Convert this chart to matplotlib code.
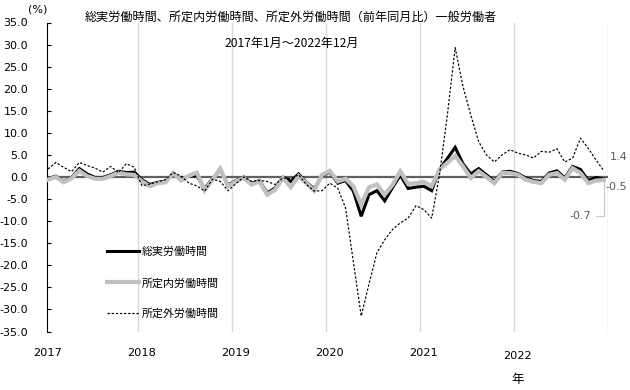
import matplotlib
matplotlib.use('Agg')
import matplotlib.pyplot as plt
from matplotlib.ticker import FuncFormatter
from matplotlib.transforms import blended_transform_factory
import numpy as np

plt.rcParams['font.family'] = ['Noto Sans CJK JP', 'DejaVu Sans']

years = ['2017', '2018', '2019', '2020', '2021', '2022']

# 総実労働時間 (前年同月比, %)
total_hours = [
    -0.4, 0.2, -1.0, -0.1, 1.9, 0.7, -0.1, -0.1, 0.5, 1.3, 1.0, 1.1,
    -0.6, -1.7, -1.2, -1.0, 0.9, -0.5, 0.2, 0.3, -2.6, -0.4, 1.6, -1.8,
    -0.8, 0.0, -1.4, -0.8, -3.6, -2.5, 0.0, -1.0, 0.7, -1.2, -2.7, 0.3,
    1.1, -1.4, -0.8, -3.2, -8.9, -4.0, -3.1, -5.4, -2.4, 0.4, -2.6, -2.3,
    -2.1, -3.1, 1.7, 4.2, 6.7, 3.0, 0.7, 1.9, 0.5, -1.0, 1.1, 1.3,
    0.8, -0.2, -0.8, -1.0, 0.9, 1.4, -0.2, 2.4, 1.7, -0.8, -0.1, -0.5,
]
# 所定内労働時間
scheduled_hours = [
    -0.6, 0.0, -1.2, -0.3, 1.4, 0.2, -0.4, -0.4, 0.2, 1.0, 0.6, 0.5,
    -1.0, -2.1, -1.4, -1.2, 0.9, -0.8, 0.3, 1.0, -3.0, -0.6, 1.9, -2.1,
    -1.0, -0.2, -1.7, -1.0, -4.0, -2.9, -0.2, -2.3, 0.2, -1.4, -3.1, 0.5,
    1.4, -1.0, -0.4, -2.1, -6.3, -2.3, -1.7, -4.0, -1.8, 1.3, -1.6, -1.4,
    -1.1, -2.1, 1.7, 3.2, 4.8, 2.4, -0.2, 1.3, 0.0, -1.4, 0.9, 0.9,
    0.5, -0.6, -1.1, -1.4, 0.5, 0.9, -0.6, 2.0, 0.9, -1.4, -0.8, -0.7,
]
# 所定外労働時間
overtime_hours = [
    1.8, 3.3, 2.2, 1.2, 3.3, 2.6, 2.0, 1.1, 2.4, 1.0, 3.0, 2.2,
    -2.0, -1.6, -1.1, -0.6, 1.0, 0.2, -1.4, -2.0, -3.2, -0.5, -1.0, -3.1,
    -1.5, 0.0, -1.0, -0.8, -1.0, -1.7, -0.2, -0.4, 0.5, -1.7, -3.2, -3.1,
    -1.4, -2.5, -7.0, -19.2, -31.5, -24.2, -17.2, -14.2, -11.9, -10.4, -9.3, -6.5,
    -7.4, -9.3, 0.5, 14.0, 29.3, 20.5, 14.0, 8.0, 5.0, 3.4, 5.0, 6.2,
    5.4, 5.0, 4.3, 5.8, 5.6, 6.4, 3.4, 4.3, 8.8, 6.5, 3.8, 1.4,
]

labels = ['総実労働時間', '所定内労働時間', '所定外労働時間']
title = '総実労働時間、所定内労働時間、所定外労働時間（前年同月比）一般労働者'
subtitle = '2017年1月～2022年12月'

W, H = 630, 390
fig = plt.figure(figsize=(W / 100, H / 100), dpi=100)
ax = fig.add_axes([47 / W, 1 - 331.5 / H, (608 - 47) / W, (331.5 - 22.5) / H])

x = np.arange(len(total_hours))
ax.axhline(0, color='#606060', lw=1.6, zorder=2)
l1, = ax.plot(x, total_hours, color='black', lw=2.2, zorder=3, label=labels[0],
              solid_joinstyle='miter')
l2, = ax.plot(x, scheduled_hours, color='#c0c0c0', lw=3.0, zorder=4, label=labels[1],
              solid_joinstyle='miter')
l3, = ax.plot(x, overtime_hours, color='black', lw=0.85, ls=(0, (2, 1.5)), zorder=5,
              label=labels[2])

ax.set_xlim(-0.13, 71.52)
ax.set_ylim(-35, 35)
ax.set_yticks(np.arange(-35, 36, 5))
ax.yaxis.set_major_formatter(FuncFormatter(lambda v, p: f'{v:.1f}'))
ax.tick_params(axis='y', direction='in', length=3, width=0.8, pad=13.7,
               labelsize=8, labelfontfamily='DejaVu Sans', colors='black')

ax.set_xticks([0, 12, 24, 36, 48])
ax.set_xticklabels(years[:5])
ax.tick_params(axis='x', which='major', length=0, pad=12, labelsize=8.2,
               labelfontfamily='DejaVu Sans')
ax.set_xticks(np.arange(11.5, 72, 12), minor=True)
ax.tick_params(axis='x', which='minor', length=0)
ax.grid(axis='x', which='minor', color='#d9d9d9', lw=1.0)
ax.set_axisbelow(True)

for s in ['top', 'right', 'bottom']:
    ax.spines[s].set_visible(False)
ax.spines['left'].set_linewidth(0.8)

tr = blended_transform_factory(ax.transData, fig.transFigure)
ax.text(60, 1 - 356 / H, years[5], transform=tr, ha='center', va='center',
        fontsize=8.2, family='DejaVu Sans')
ax.text(60, 1 - 380 / H, '年', transform=tr, ha='center', va='center', fontsize=9)

fig.text(291 / W, 1 - 17 / H, title, ha='center', va='center', fontsize=8.7)
fig.text(292 / W, 1 - 43.5 / H, subtitle, ha='center', va='center', fontsize=8.7)
fig.text(38 / W, 1 - 10 / H, '(%)', ha='center', va='center', fontsize=8,
         family='DejaVu Sans')

# end-point labels
ax.annotate(f'{overtime_hours[-1]:.1f}', xy=(x[-1], overtime_hours[-1]),
            xytext=(6, 14), textcoords='offset pixels', ha='left', va='center',
            fontsize=8, color='#595959', family='DejaVu Sans')
ax.annotate(f'{total_hours[-1]:.1f}', xy=(x[-1], total_hours[-1]),
            xytext=(2, -8), textcoords='offset pixels', ha='left', va='center',
            fontsize=8, color='#595959', family='DejaVu Sans')
ax.annotate(f'{scheduled_hours[-1]:.1f}', xy=(x[-1], scheduled_hours[-1]),
            xytext=(-13, -36), textcoords='offset pixels', ha='right', va='center',
            fontsize=8, color='#595959', family='DejaVu Sans',
            arrowprops=dict(arrowstyle='-', color='#c8c8c8', lw=0.8,
                            connectionstyle='angle,angleA=0,angleB=90,rad=0',
                            relpos=(1, 0.5), shrinkA=2, shrinkB=1))

ax.legend(handles=[l1, l2, l3], loc='upper left',
          bbox_to_anchor=(107 / W, 1 - 247 / H), bbox_transform=fig.transFigure,
          frameon=False, fontsize=7.9, handlelength=2.9, handletextpad=0.27,
          labelspacing=1.85, borderpad=0, borderaxespad=0)

fig.savefig('out.png', dpi=100)
